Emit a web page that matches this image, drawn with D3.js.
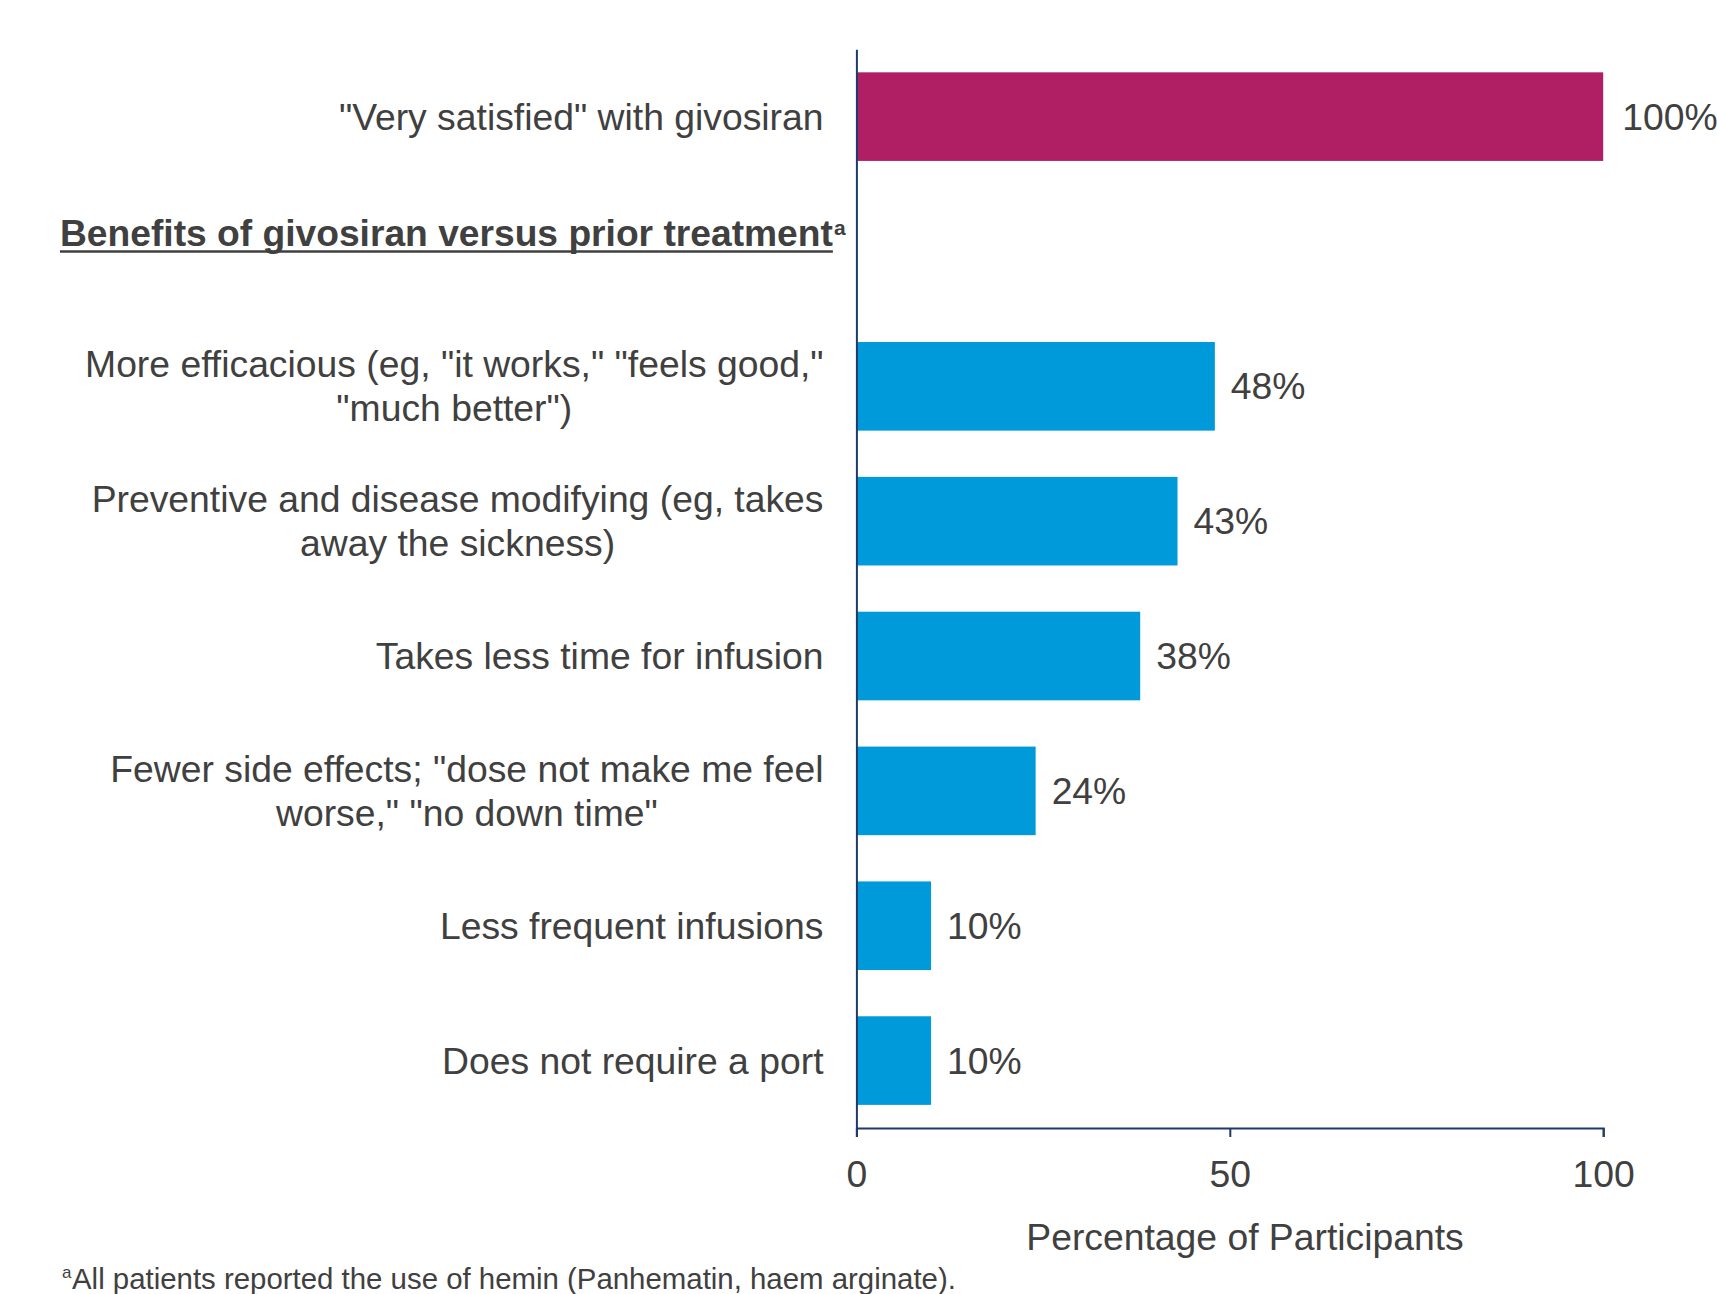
<!DOCTYPE html>
<html>
<head>
<meta charset="utf-8">
<script src="https://cdn.jsdelivr.net/npm/d3@7"></script>
<style>
  html, body { margin: 0; padding: 0; background: #ffffff; }
  svg { display: block; }
  text { font-family: "Liberation Sans", Arial, sans-serif; fill: #404040; }
</style>
</head>
<body>
<svg id="chart" width="1717" height="1294"></svg>
<script>
// ---- data ----
const categories = [
  ['"Very satisfied" with givosiran'],
  [],
  ['More efficacious (eg, "it works," "feels good,"', '"much better")'],
  ['Preventive and disease modifying (eg, takes', 'away the sickness)'],
  ['Takes less time for infusion'],
  ['Fewer side effects; "dose not make me feel', 'worse," "no down time"'],
  ['Less frequent infusions'],
  ['Does not require a port']
];
const values = [100, null, 48, 43, 38, 24, 10, 10];
const groups = ['satisfaction', null, 'benefit', 'benefit', 'benefit', 'benefit', 'benefit', 'benefit'];
const valueLabels = ['100%', '', '48%', '43%', '38%', '24%', '10%', '10%'];
const tickValues = [0, 50, 100];
const headerText = 'Benefits of givosiran versus prior treatment';
const headerSup = 'a';
const axisTitle = 'Percentage of Participants';
const footnoteSup = 'a';
const footnoteText = 'All patients reported the use of hemin (Panhematin, haem arginate).';

// ---- layout ----
const svg = d3.select('#chart');
const x0 = 856.4, x1 = 1603.2, yTop = 49.2, yBot = 1128;
const textColor = '#404040';
const axisColor = '#1f3a68';
const colors = { satisfaction: '#b01f63', benefit: '#009adb' };
const fs = '37.3px';

const x = d3.scaleLinear().domain([0, 100]).range([x0, x1]);
const y = d3.scaleBand().domain(d3.range(categories.length)).range([yTop, yBot])
  .paddingInner(0.343).paddingOuter(0.1715);

// bars
const idx = d3.range(categories.length).filter(i => values[i] !== null);
svg.append('g').selectAll('rect').data(idx).join('rect')
  .attr('x', x(0))
  .attr('y', i => y(i))
  .attr('width', i => x(values[i]) - x(0))
  .attr('height', y.bandwidth())
  .attr('fill', i => colors[groups[i]]);

// value labels
svg.append('g').selectAll('text').data(idx).join('text')
  .attr('x', i => x(values[i]) + (values[i] === 100 ? 19 : 16))
  .attr('y', i => y(i) + y.bandwidth() / 2)
  .attr('dy', '0.35em')
  .style('font-size', fs)
  .text(i => valueLabels[i]);

// category labels
const labelRight = 823.5;
const lineGap = 43.8;
const lg = svg.append('g');
categories.forEach((lines, i) => {
  if (!lines.length) return;
  const cy = y(i) + y.bandwidth() / 2;
  const n = lines.length;
  const texts = lines.map((ln, k) => lg.append('text')
    .attr('y', cy + (k - (n - 1) / 2) * lineGap)
    .attr('dy', '0.35em')
    .style('font-size', fs)
    .text(ln));
  const widths = texts.map(t => t.node().getComputedTextLength());
  const maxW = d3.max(widths);
  const center = labelRight - maxW / 2;
  texts.forEach(t => t.attr('x', center).attr('text-anchor', 'middle'));
});

// header
const hdr = svg.append('text')
  .attr('x', 60).attr('y', 246)
  .style('font-size', '37.2px').style('font-weight', 'bold')
  .text(headerText);
const hw = hdr.node().getComputedTextLength();
svg.append('line')
  .attr('x1', 60).attr('x2', 60 + hw)
  .attr('y1', 251.5).attr('y2', 251.5)
  .attr('stroke', textColor).attr('stroke-width', 2.6);
svg.append('text')
  .attr('x', 60 + hw + 1).attr('y', 235)
  .style('font-size', '21px').style('font-weight', 'bold')
  .text(headerSup);

// x axis
const xAxis = svg.append('g')
  .attr('transform', `translate(0,${yBot})`)
  .call(d3.axisBottom(x).tickValues(tickValues).tickSize(9).tickSizeOuter(9).tickPadding(24));
xAxis.select('.domain').attr('stroke', axisColor).attr('stroke-width', 2);
xAxis.selectAll('.tick line').attr('stroke', axisColor).attr('stroke-width', 2);
xAxis.selectAll('.tick text')
  .style('font-size', fs).style('font-family', '"Liberation Sans", Arial, sans-serif')
  .attr('fill', textColor);

// y axis line
const yAxis = svg.append('g')
  .attr('transform', `translate(${x0},0)`)
  .call(d3.axisLeft(d3.scaleLinear().range([yTop, yBot])).tickValues([]).tickSizeOuter(0));
yAxis.select('.domain').attr('stroke', axisColor).attr('stroke-width', 2);

// axis title
svg.append('text')
  .attr('x', 1245).attr('y', 1250)
  .attr('text-anchor', 'middle')
  .style('font-size', fs)
  .text(axisTitle);

// footnote
svg.append('text')
  .attr('x', 62).attr('y', 1278)
  .style('font-size', '17px')
  .text(footnoteSup);
svg.append('text')
  .attr('x', 72).attr('y', 1289)
  .style('font-size', '29.4px')
  .text(footnoteText);
</script>
</body>
</html>
